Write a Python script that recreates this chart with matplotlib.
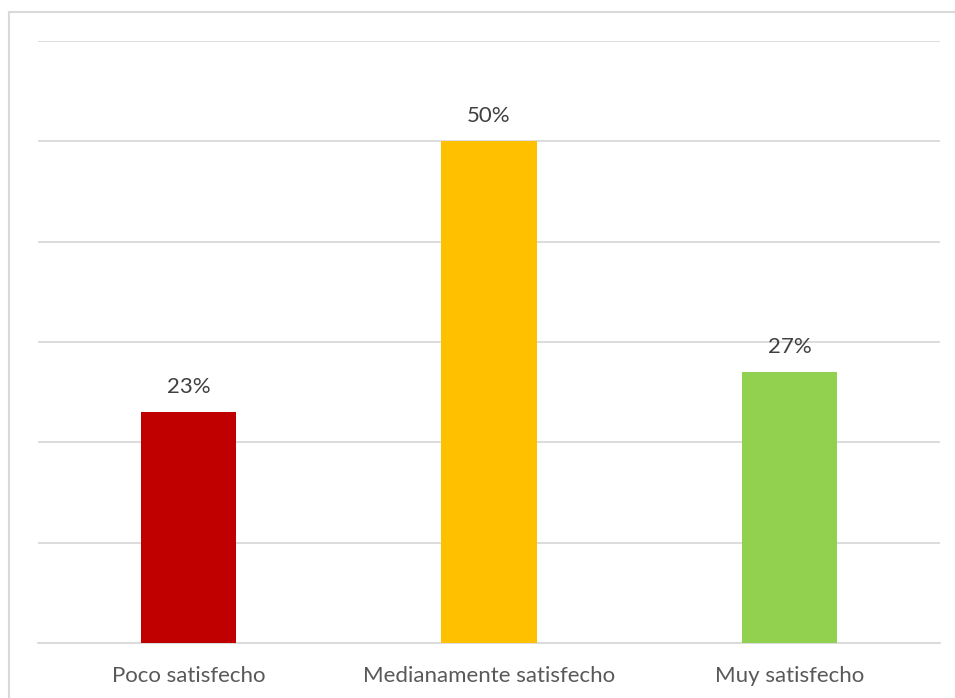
import matplotlib
matplotlib.use("Agg")
import matplotlib.pyplot as plt
from matplotlib.lines import Line2D


# data
categories = ["Poco satisfecho", "Medianamente satisfecho", "Muy satisfecho"]
values = [0.23, 0.50, 0.27]
colors = ["#c00000", "#ffc000", "#92d050"]

W, H = 955, 698
fig = plt.figure(figsize=(W / 100, H / 100), dpi=100)
plt.rcParams['font.family'] = ['Lato', 'DejaVu Sans']

# outer chart border: only left and top edges fall inside the image
bx, by = 9 / W, 1 - 12 / H
fig.add_artist(Line2D([bx, bx], [0, by], transform=fig.transFigure,
                      color="#d9d9d9", linewidth=1.5))
fig.add_artist(Line2D([bx, 1], [by, by], transform=fig.transFigure,
                      color="#d9d9d9", linewidth=1.5))

ax = fig.add_axes([38 / W, 1 - 643 / H, (940 - 38) / W, (643 - 41) / H])
x = range(len(categories))
ax.bar(x, values, width=0.318, color=colors, zorder=3)
ax.set_xlim(-0.5, 2.5)
ax.set_ylim(0, 0.6)
ax.set_yticks([i / 10 for i in range(7)])
ax.yaxis.grid(True, color="#d9d9d9", linewidth=1.3, zorder=0)
ax.tick_params(axis="y", left=False, labelleft=False)
ax.tick_params(axis="x", bottom=False, labelsize=16, labelcolor="#595959", pad=13)
ax.set_xticks(list(x))
ax.set_xticklabels(categories)
for s in ["top", "right", "left"]:
    ax.spines[s].set_visible(False)
ax.spines["bottom"].set_color("#d9d9d9")
ax.spines["bottom"].set_linewidth(1.3)

for xi, v in zip(x, values):
    ax.annotate(f"{round(v * 100)}%", (xi, v), xytext=(0, 11), textcoords="offset points",
                ha="center", va="bottom", fontsize=16, color="#404040")

fig.savefig("out.png", dpi=100)
